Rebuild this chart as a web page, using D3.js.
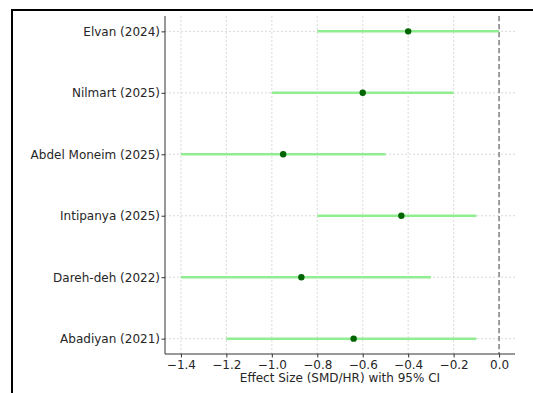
<!DOCTYPE html>
<html>
<head>
<meta charset="utf-8">
<script src="https://cdn.jsdelivr.net/npm/d3@7"></script>
<style>
  body { margin: 0; background: #fff; }
  svg { display: block; }
  text { font-family: "DejaVu Sans", sans-serif; }
</style>
</head>
<body>
<div id="chart"></div>
<script>
// studies, top to bottom
const studies = ["Elvan (2024)", "Nilmart (2025)", "Abdel Moneim (2025)", "Intipanya (2025)", "Dareh-deh (2022)", "Abadiyan (2021)"];
const effect = [-0.4, -0.6, -0.95, -0.43, -0.87, -0.64];
const lower = [-0.8, -1.0, -1.4, -0.8, -1.4, -1.2];
const upper = [0.0, -0.2, -0.5, -0.1, -0.3, -0.1];
const xTicks = [-1.4, -1.2, -1.0, -0.8, -0.6, -0.4, -0.2, 0.0];

const width = 533, height = 393;
const margin = {top: 16, right: 18, bottom: 39, left: 165};

const svg = d3.select("#chart").append("svg")
  .attr("width", width)
  .attr("height", height);

// outer frame
svg.append("path")
  .attr("d", `M12,${height} L12,10 L${width},10`)
  .attr("fill", "none")
  .attr("stroke", "#000")
  .attr("stroke-width", 2);

const x = d3.scaleLinear().domain([-1.47, 0.07]).range([margin.left, width - margin.right]);
// rows: index 0 at top, matplotlib-ish margins
const y = d3.scaleLinear().domain([-0.25, studies.length - 0.75]).range([margin.top, height - margin.bottom]);

const g = svg.append("g");

// grid
g.selectAll(".vgrid").data(xTicks).enter().append("line")
  .attr("x1", d => x(d)).attr("x2", d => x(d))
  .attr("y1", margin.top).attr("y2", height - margin.bottom)
  .attr("stroke", "#d0d0d0").attr("stroke-width", 0.8)
  .attr("stroke-dasharray", "2,2");
g.selectAll(".hgrid").data(studies).enter().append("line")
  .attr("x1", margin.left).attr("x2", width - margin.right)
  .attr("y1", (d, i) => y(i)).attr("y2", (d, i) => y(i))
  .attr("stroke", "#d0d0d0").attr("stroke-width", 0.8)
  .attr("stroke-dasharray", "2,2");

// reference line at zero
g.append("line")
  .attr("x1", x(0)).attr("x2", x(0))
  .attr("y1", margin.top).attr("y2", height - margin.bottom)
  .attr("stroke", "#808080").attr("stroke-width", 1.5)
  .attr("stroke-dasharray", "5,3");

// CI lines
g.selectAll(".ci").data(studies).enter().append("line")
  .attr("x1", (d, i) => x(lower[i])).attr("x2", (d, i) => x(upper[i]))
  .attr("y1", (d, i) => y(i)).attr("y2", (d, i) => y(i))
  .attr("stroke", "#90ee90").attr("stroke-width", 2.5);

// point estimates
g.selectAll(".pt").data(studies).enter().append("circle")
  .attr("cx", (d, i) => x(effect[i]))
  .attr("cy", (d, i) => y(i))
  .attr("r", 3.2)
  .attr("fill", "#006400");

// x axis
const xAxis = d3.axisBottom(x).tickValues(xTicks).tickSize(3.5).tickPadding(3)
  .tickFormat(d => d3.format(".1f")(d).replace("-", "\u2212"));
const xg = svg.append("g")
  .attr("transform", `translate(0,${height - margin.bottom})`)
  .call(xAxis);
xg.select(".domain").attr("d", `M${margin.left},0H${width - margin.right}`).attr("stroke", "#333").attr("stroke-width", 1);
xg.selectAll(".tick line").attr("stroke", "#333");
xg.selectAll("text").attr("font-size", 12).attr("fill", "#262626").attr("font-family", "DejaVu Sans");

// y axis
const yAxis = d3.axisLeft(y).tickValues(d3.range(studies.length)).tickSize(3.5).tickPadding(1.5)
  .tickFormat(i => studies[i]);
const yg = svg.append("g")
  .attr("transform", `translate(${margin.left},0)`)
  .call(yAxis);
yg.select(".domain").attr("d", `M0,${margin.top}V${height - margin.bottom}`).attr("stroke", "#333").attr("stroke-width", 1);
yg.selectAll(".tick line").attr("stroke", "#333");
yg.selectAll("text").attr("font-size", 12).attr("fill", "#262626").attr("font-family", "DejaVu Sans");

// x label
svg.append("text")
  .attr("x", (margin.left + width - margin.right) / 2)
  .attr("y", 382)
  .attr("text-anchor", "middle")
  .attr("font-size", 12)
  .attr("fill", "#262626")
  .text("Effect Size (SMD/HR) with 95% CI");
</script>
</body>
</html>
